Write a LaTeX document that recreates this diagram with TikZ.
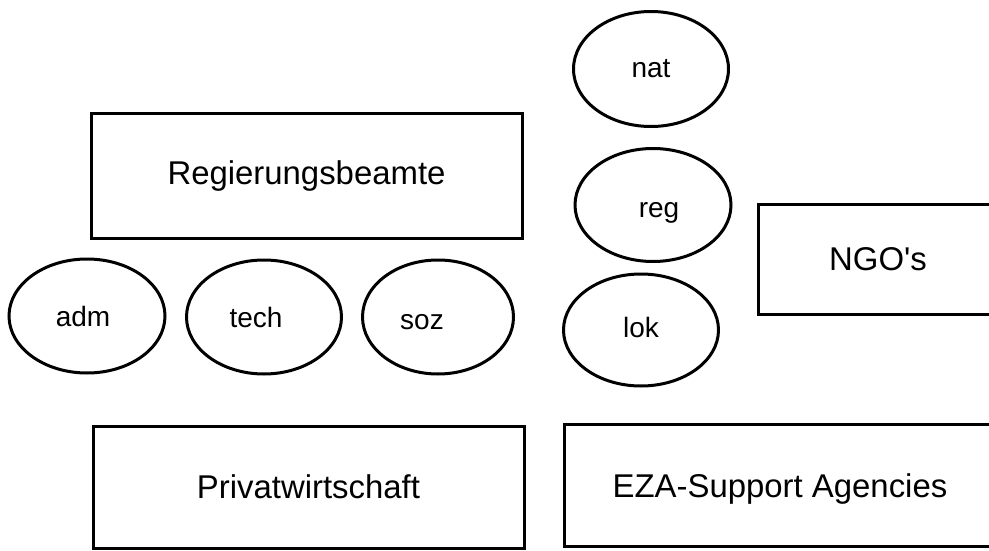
\documentclass[tikz,border=0pt]{standalone}
\usepackage{fontspec}
\setmainfont{Liberation Sans}[Ligatures=TeXOff]
\usetikzlibrary{shapes.geometric}
\begin{document}
\begin{tikzpicture}[x=1pt,y=-1pt,
  bigtext/.style={font=\fontsize{32.9}{36}\selectfont, inner sep=0pt},
  smalltext/.style={font=\fontsize{28}{32}\selectfont, inner sep=0pt},
  box/.style={draw, line width=3pt, rectangle, inner sep=0pt, bigtext},
  oval/.style={draw, line width=3pt, ellipse, inner sep=0pt, smalltext}]
\useasboundingbox (0,0) rectangle (989,551);
\clip (0,0) rectangle (989,551);
\node[box, minimum width=431pt, minimum height=124pt] (regb) at (306.5,176) {Regierungsbeamte};
\node[box, minimum width=240pt, minimum height=110pt] (ngo) at (878,259) {NGO's};
\node[box, minimum width=431pt, minimum height=122pt] (priv) at (308.5,487) {Privatwirtschaft};
\node[box, minimum width=432pt, minimum height=122pt,
  label={[bigtext, yshift=-4pt]center:EZA-Support Agencies}] (eza) at (780,485) {};
\node[oval, minimum width=156pt, minimum height=114pt] (adm) at (87,316) {\kern-8pt adm};
\node[oval, minimum width=155pt, minimum height=114pt] (tech) at (264,317) {\kern-16pt tech};
\node[oval, minimum width=151pt, minimum height=114pt,
  label={[smalltext, xshift=-16pt, yshift=-5pt]center:soz}] (soz) at (438,317) {};
\node[oval, minimum width=155pt, minimum height=115pt] (nat) at (651,69) {nat};
\node[oval, minimum width=156pt, minimum height=113pt,
  label={[smalltext, xshift=6pt, yshift=-8pt]center:reg}] (reg) at (653,205) {};
\node[oval, minimum width=155pt, minimum height=112pt] (lok) at (641,330) {\raisebox{5pt}{lok}};
\end{tikzpicture}
\end{document}
